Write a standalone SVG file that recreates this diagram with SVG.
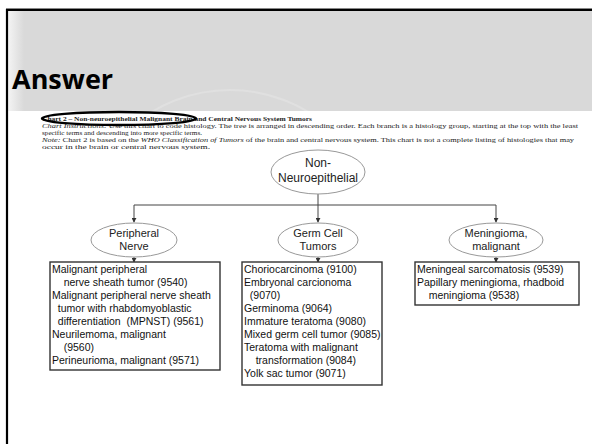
<svg xmlns="http://www.w3.org/2000/svg" width="592" height="444" viewBox="0 0 592 444">
<defs>
<linearGradient id="lg" x1="0" y1="0" x2="1" y2="0">
<stop offset="0" stop-color="#f4f4f4"/>
<stop offset="1" stop-color="#d9d9d9"/>
</linearGradient>
<marker id="ah" viewBox="0 0 6 6" refX="5" refY="3" markerWidth="5" markerHeight="5" orient="auto">
<path d="M0,0 L6,3 L0,6 z" fill="#333"/>
</marker>
<clipPath id="hc"><rect x="8" y="11" width="584" height="100"/></clipPath>
</defs>
<style>
.n{fill:#fff;stroke:#999;stroke-width:1}
.nt{font-family:"Liberation Sans",Arial,sans-serif;fill:#222;text-anchor:middle}
.b{fill:#fff;stroke:#333;stroke-width:1.4}
.bt{font-family:"Liberation Sans",Arial,sans-serif;font-size:10.5px;fill:#111}
.c{fill:none;stroke:#444;stroke-width:1}
.s{font-family:"Liberation Serif","Times New Roman",serif;font-size:6.8px;fill:#222}
</style>
<rect x="0" y="0" width="592" height="444" fill="#fff"/>
<g id="header">
<rect x="8" y="11" width="584" height="100" fill="#d9d9d9"/>
<rect x="8" y="11" width="16" height="100" fill="url(#lg)"/>
<g clip-path="url(#hc)" fill="none" stroke="#e0e0e0" stroke-width="2">
<circle cx="230" cy="240" r="150"/>
<circle cx="230" cy="240" r="125"/>
</g>
<line x1="6" y1="8.5" x2="592" y2="8.5" stroke="#888" stroke-width="1"/>
<line x1="6" y1="10" x2="592" y2="10" stroke="#000" stroke-width="2.2"/>
<line x1="7" y1="9" x2="7" y2="444" stroke="#000" stroke-width="2.2"/>
<text x="12" y="89" font-family="'Open Sans','Liberation Sans',sans-serif" font-weight="bold" font-size="27" fill="#000">Answer</text>
</g>
<g id="intro">
<text class="s" x="42" y="121" font-weight="bold" font-size="7.5" textLength="270" lengthAdjust="spacingAndGlyphs">Chart 2 – Non-neuroepithelial Malignant Brain and Central Nervous System Tumors</text>
<text class="s" x="42" y="128" textLength="536" lengthAdjust="spacingAndGlyphs"><tspan font-style="italic">Chart Instructions:</tspan>  Use this chart to code histology.  The tree is arranged in descending order. Each branch is a histology group, starting at the top with the least</text>
<text class="s" x="42" y="135" textLength="160" lengthAdjust="spacingAndGlyphs">specific terms and descending into more specific terms.</text>
<text class="s" x="42" y="142" textLength="532" lengthAdjust="spacingAndGlyphs"><tspan font-style="italic">Note:</tspan>  Chart 2 is based on the <tspan font-style="italic">WHO Classification of Tumors</tspan> of the brain and central nervous system. This chart is not a complete listing of histologies that may</text>
<text class="s" x="42" y="149" textLength="168" lengthAdjust="spacingAndGlyphs">occur in the brain or central nervous system.</text>
<ellipse cx="119" cy="118.5" rx="77" ry="6.5" fill="none" stroke="#000" stroke-width="2.4"/>
</g>
<g id="connectors">
<path class="c" d="M318,194 V205 M134,205 H496"/>
<line class="c" x1="134" y1="205" x2="134" y2="222" marker-end="url(#ah)"/>
<line class="c" x1="318" y1="205" x2="318" y2="222" marker-end="url(#ah)"/>
<line class="c" x1="496" y1="205" x2="496" y2="222" marker-end="url(#ah)"/>
<line class="c" x1="134" y1="257" x2="134" y2="262" marker-end="url(#ah)"/>
<line class="c" x1="318" y1="257" x2="318" y2="262" marker-end="url(#ah)"/>
<line class="c" x1="496" y1="257" x2="496" y2="262" marker-end="url(#ah)"/>
</g>
<g id="root">
<ellipse class="n" cx="318" cy="172" rx="47" ry="22"/>
<text class="nt" x="318" y="167" font-size="12">Non-</text>
<text class="nt" x="318" y="182" font-size="12">Neuroepithelial</text>
</g>
<g id="peripheral">
<ellipse class="n" cx="134" cy="240" rx="43" ry="17"/>
<text class="nt" x="134" y="237" font-size="11">Peripheral</text>
<text class="nt" x="134" y="250" font-size="11">Nerve</text>
</g>
<g id="germ">
<ellipse class="n" cx="318" cy="240" rx="40" ry="17"/>
<text class="nt" x="318" y="237" font-size="11">Germ Cell</text>
<text class="nt" x="318" y="250" font-size="11">Tumors</text>
</g>
<g id="meningioma">
<ellipse class="n" cx="496" cy="240" rx="47" ry="17"/>
<text class="nt" x="496" y="237" font-size="11">Meningioma,</text>
<text class="nt" x="496" y="250" font-size="11">malignant</text>
</g>
<g id="peripheral-list">
<rect class="b" x="50" y="262" width="170" height="108"/>
<text class="bt" x="52" y="273">Malignant peripheral</text>
<text class="bt" x="52" y="286" xml:space="preserve">    nerve sheath tumor (9540)</text>
<text class="bt" x="52" y="299">Malignant peripheral nerve sheath</text>
<text class="bt" x="52" y="312" xml:space="preserve">  tumor with rhabdomyoblastic</text>
<text class="bt" x="52" y="325" xml:space="preserve">  differentiation  (MPNST) (9561)</text>
<text class="bt" x="52" y="338">Neurilemoma, malignant</text>
<text class="bt" x="52" y="351" xml:space="preserve">    (9560)</text>
<text class="bt" x="52" y="364">Perineurioma, malignant (9571)</text>
</g>
<g id="germ-list">
<rect class="b" x="242" y="262" width="140" height="123"/>
<text class="bt" x="244" y="273">Choriocarcinoma (9100)</text>
<text class="bt" x="244" y="286">Embryonal carcionoma</text>
<text class="bt" x="244" y="299" xml:space="preserve">  (9070)</text>
<text class="bt" x="244" y="312">Germinoma (9064)</text>
<text class="bt" x="244" y="325">Immature teratoma (9080)</text>
<text class="bt" x="244" y="338">Mixed germ cell tumor (9085)</text>
<text class="bt" x="244" y="351">Teratoma with malignant</text>
<text class="bt" x="244" y="364" xml:space="preserve">    transformation (9084)</text>
<text class="bt" x="244" y="377">Yolk sac tumor (9071)</text>
</g>
<g id="meningioma-list">
<rect class="b" x="415" y="262" width="164" height="43"/>
<text class="bt" x="417" y="273">Meningeal sarcomatosis (9539)</text>
<text class="bt" x="417" y="286">Papillary meningioma, rhadboid</text>
<text class="bt" x="417" y="299" xml:space="preserve">    meningioma (9538)</text>
</g>
</svg>
